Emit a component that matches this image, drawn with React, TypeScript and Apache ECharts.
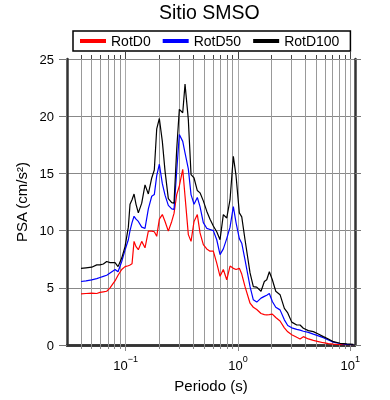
import React, { useEffect, useRef } from 'react';
import * as echarts from 'echarts';

const periods = [
  0.04, 0.0443, 0.0498, 0.0552, 0.059, 0.0632, 0.0677, 0.0725, 0.0776, 0.0803,
  0.0854, 0.0921, 0.0986, 0.1055, 0.1092, 0.1138, 0.1186, 0.1235, 0.1295, 0.1388,
  0.1485, 0.159, 0.1704, 0.1797, 0.1888, 0.1992, 0.2118, 0.2239, 0.2395, 0.2568,
  0.2692, 0.2844, 0.3001, 0.3218, 0.3373, 0.3609, 0.3815, 0.4057, 0.434, 0.4587,
  0.4909, 0.5264, 0.5632, 0.6026, 0.6461, 0.6913, 0.7397, 0.7932, 0.8487, 0.9082,
  0.9598, 1.027, 1.079, 1.154, 1.279, 1.368, 1.467, 1.602, 1.715, 1.801,
  1.9, 2.02, 2.167, 2.366, 2.585, 2.771, 3.008, 3.332, 3.565, 3.815,
  4.227, 4.682, 5.188, 5.749, 6.37, 7.058, 8.095, 9.29, 10.63,
];

const rotD0 = [
  4.47, 4.5, 4.53, 4.5, 4.6, 4.65, 4.7, 5.0, 5.4, 5.6,
  6.1, 6.6, 6.85, 6.93, 7.0, 7.1, 9.06, 8.6, 8.33, 9.06,
  8.5, 9.95, 9.95, 9.9, 9.5, 11.0, 11.4, 10.8, 9.95, 10.8,
  11.5, 13.15, 13.9, 15.35, 13.0, 9.65, 9.06, 10.8, 11.4, 9.8,
  8.77, 8.4, 8.2, 8.2, 7.15, 6.0, 6.6, 5.7, 6.9, 6.7,
  6.6, 6.7, 6.2, 5.1, 3.65, 3.3, 3.1, 2.75, 2.65, 2.63,
  2.65, 2.7, 2.4, 2.1, 1.5, 1.15, 0.9, 0.67, 0.53, 0.73,
  0.53, 0.4, 0.3, 0.2, 0.12, 0.07, 0.04, 0.03, 0.02,
];

const rotD50 = [
  5.55, 5.6, 5.7, 5.8, 5.9, 6.0, 6.1, 6.3, 6.5, 6.6,
  6.4, 7.3, 8.3, 9.2, 10.0, 10.7, 11.25, 11.0, 10.8, 10.3,
  10.2, 11.9, 13.0, 13.15, 14.8, 15.8, 14.1, 13.1, 12.2, 11.9,
  11.85, 15.2, 18.4, 17.8, 16.8, 15.4, 13.15, 12.3, 12.9, 12.1,
  10.7, 10.2, 10.1, 10.0, 9.2, 7.9, 8.4, 9.3, 10.3, 12.1,
  10.7, 9.3, 8.9, 7.45, 5.1, 3.95, 3.75, 4.1, 4.25, 4.35,
  4.5, 3.8, 3.3, 3.07, 2.2, 1.7, 1.5, 1.37, 1.3, 1.2,
  1.1, 0.95, 0.8, 0.64, 0.45, 0.25, 0.13, 0.06, 0.03,
];

const rotD100 = [
  6.7, 6.75, 6.8, 7.0, 7.0, 7.08, 7.3, 7.2, 7.2, 7.2,
  6.85, 7.6, 8.6, 10.3, 12.3, 12.7, 13.2, 12.3, 11.55, 12.4,
  14.0, 13.2, 14.6, 15.3, 18.9, 19.8, 17.8, 15.2, 12.8, 12.45,
  12.4, 17.1, 20.6, 20.3, 22.8, 19.7, 14.9, 14.6, 13.5, 13.3,
  12.6, 11.7, 11.0, 10.4, 9.9, 9.2, 11.4, 11.1, 12.7, 16.5,
  14.8, 11.55, 11.2, 9.2, 6.3, 5.1, 5.06, 4.7, 5.55, 5.7,
  6.4, 5.7, 4.7, 4.4, 3.2, 2.8, 2.0, 1.75, 1.75, 1.46,
  1.26, 1.17, 0.96, 0.73, 0.53, 0.29, 0.15, 0.09, 0.05,
];

const gridPeriods = [
  0.04, 0.05, 0.06, 0.07, 0.08, 0.09,
  0.1, 0.2, 0.3, 0.4, 0.5, 0.6, 0.7, 0.8, 0.9,
  1, 2, 3, 4, 5, 6, 7, 8, 9, 10,
];

const seriesNames = ['RotD0', 'RotD50', 'RotD100'];
const seriesColors = ['#ff0000', '#0000ff', '#000000'];

const xMin = 0.03;
const xMax = 11;
const yMax = 25;

export default function App() {
  const ref = useRef<HTMLDivElement>(null);
  useEffect(() => {
    const chart = echarts.init(ref.current!, null, { renderer: 'svg' });
    const font = "'Liberation Sans', Arial, Helvetica, sans-serif";
    const pair = (vals: number[]) => periods.map((t, i) => [t, vals[i]]);
    const isDecade = (v: number) => Math.abs(Math.log10(v) - Math.round(Math.log10(v))) < 1e-6;
    const supLabel = (v: number) => {
      if (!isDecade(v)) return '';
      const e = Math.round(Math.log10(v));
      return `{b|10}{s|${e < 0 ? '\u2212' + -e : e}}`;
    };
    const crisp = (v: number) => Math.round(v - 0.5) + 0.5;
    const allValues = [rotD0, rotD50, rotD100];
    chart.setOption({
      animation: false,
      title: {
        text: 'Sitio SMSO',
        left: 159,
        top: 2,
        padding: 0,
        textStyle: { fontSize: 19.5, fontWeight: 'normal', color: '#000', fontFamily: font },
      },
      legend: {
        data: seriesNames,
        left: 73,
        top: 31,
        icon: 'rect',
        itemWidth: 26,
        itemHeight: 4,
        itemGap: 12,
        padding: [3, 11, 3, 7],
        borderColor: '#000',
        borderWidth: 1.5,
        borderRadius: 0,
        textStyle: { fontSize: 14, color: '#000', fontFamily: font },
      },
      grid: { left: 67, right: 35, top: 59, bottom: 55 },
      xAxis: [
        {
          type: 'log',
          logBase: 10,
          min: xMin,
          max: xMax,
          position: 'bottom',
          name: 'Periodo (s)',
          nameLocation: 'middle',
          nameGap: 33,
          nameTextStyle: { fontSize: 15, color: '#000', fontFamily: font },
          axisLine: { show: true, lineStyle: { color: '#333', width: 2.5 } },
          axisTick: { show: false },
          splitLine: { show: false },
          axisLabel: {
            formatter: supLabel,
            margin: 9,
            color: '#000',
            rich: {
              b: { fontSize: 13, fontFamily: font, color: '#000', lineHeight: 18, verticalAlign: 'bottom' },
              s: { fontSize: 9, fontFamily: font, color: '#000', lineHeight: 18, verticalAlign: 'top' },
            },
          },
        },
        {
          type: 'log',
          logBase: 10,
          min: xMin,
          max: xMax,
          position: 'top',
          axisLine: { show: true, lineStyle: { color: '#333', width: 2.5 } },
          axisTick: { show: false },
          axisLabel: { show: false },
          splitLine: { show: false },
        },
      ],
      yAxis: [
        {
          type: 'value',
          min: 0,
          max: yMax,
          interval: 5,
          name: 'PSA (cm/s\u00b2)',
          nameLocation: 'middle',
          nameGap: 32,
          nameTextStyle: { fontSize: 15, color: '#000', fontFamily: font },
          axisLine: { show: true, lineStyle: { color: '#333', width: 2.5 } },
          axisTick: { show: true, length: 8, lineStyle: { color: '#777' } },
          axisLabel: { fontSize: 13, color: '#000', fontFamily: font, margin: 13 },
          splitLine: { show: true, lineStyle: { color: '#888', width: 1 } },
        },
        {
          type: 'value',
          min: 0,
          max: yMax,
          interval: 5,
          position: 'right',
          axisLine: { show: true, lineStyle: { color: '#333', width: 2.5 } },
          axisTick: { show: true, length: 6, lineStyle: { color: '#777' } },
          axisLabel: { show: false },
          splitLine: { show: false },
        },
      ],
      series: [
        {
          type: 'custom',
          name: 'grid',
          xAxisIndex: 0,
          yAxisIndex: 0,
          z: 1,
          silent: true,
          clip: false,
          data: gridPeriods.map((t) => [t, 0]),
          renderItem: (params: any, api: any) => {
            const t = api.value(0);
            const b = api.coord([t, 0]);
            const tp = api.coord([t, yMax]);
            const major = isDecade(t);
            const x = crisp(b[0]);
            return {
              type: 'group',
              children: [
                { type: 'line', shape: { x1: x, y1: b[1], x2: x, y2: tp[1] }, style: { stroke: major ? '#aaa' : '#999', lineWidth: 1 } },
                { type: 'line', shape: { x1: x, y1: b[1], x2: x, y2: b[1] + (major ? 6 : 4) }, style: { stroke: '#888', lineWidth: 1 } },
                { type: 'line', shape: { x1: x, y1: tp[1], x2: x, y2: tp[1] - (major ? 7 : 4) }, style: { stroke: '#444', lineWidth: 1 } },
              ],
            };
          },
        },
        ...seriesNames.map((name, i) => ({
          type: 'line',
          name,
          xAxisIndex: 0,
          yAxisIndex: 0,
          z: 3,
          data: pair(allValues[i]),
          symbol: 'none',
          color: seriesColors[i],
          lineStyle: { color: seriesColors[i], width: 1.2 },
        })),
      ],
    });
    return () => chart.dispose();
  }, []);
  return <div ref={ref} style={{ position: 'fixed', left: 0, top: 0, width: 390, height: 400 }} />;
}
